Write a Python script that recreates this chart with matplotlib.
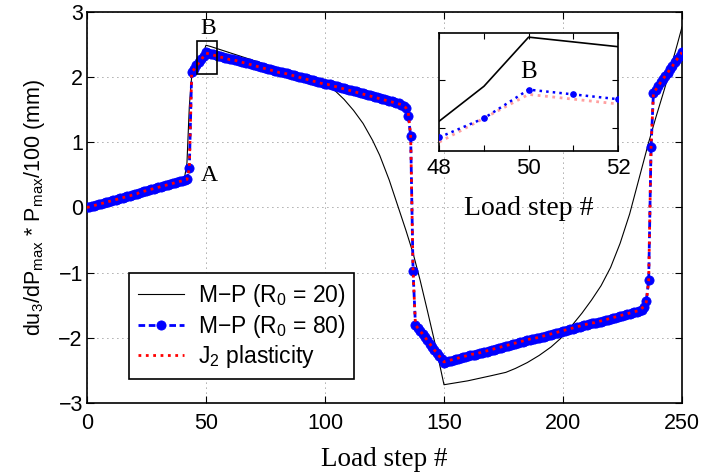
import matplotlib
matplotlib.use('Agg')
import matplotlib.pyplot as plt
from matplotlib.patches import Rectangle
import numpy as np

plt.rcParams['font.family'] = ['Liberation Sans', 'DejaVu Sans']
plt.rcParams['mathtext.fontset'] = 'custom'
plt.rcParams['mathtext.rm'] = 'Liberation Sans'
plt.rcParams['mathtext.it'] = 'Liberation Sans:italic'
plt.rcParams['mathtext.bf'] = 'Liberation Sans:bold'

# ---------------- data ----------------
steps = list(range(0, 251))

mp80 = [
    0.00, 0.01, 0.02, 0.03, 0.04, 0.05, 0.06, 0.07, 0.08, 0.09,
    0.10, 0.11, 0.12, 0.13, 0.14, 0.15, 0.16, 0.17, 0.18, 0.19,
    0.20, 0.21, 0.23, 0.24, 0.25, 0.26, 0.27, 0.28, 0.29, 0.30,
    0.31, 0.32, 0.33, 0.34, 0.35, 0.36, 0.37, 0.38, 0.39, 0.40,
    0.41, 0.42, 0.43, 0.60, 2.08, 2.13, 2.18, 2.23, 2.28, 2.32,
    2.38, 2.37, 2.36, 2.35, 2.34, 2.33, 2.32, 2.31, 2.30, 2.29,
    2.28, 2.28, 2.27, 2.26, 2.25, 2.24, 2.23, 2.22, 2.21, 2.20,
    2.19, 2.18, 2.17, 2.16, 2.15, 2.14, 2.13, 2.12, 2.11, 2.10,
    2.09, 2.08, 2.08, 2.07, 2.06, 2.05, 2.04, 2.03, 2.02, 2.01,
    2.00, 1.99, 1.98, 1.97, 1.96, 1.95, 1.94, 1.93, 1.92, 1.91,
    1.90, 1.90, 1.89, 1.88, 1.87, 1.86, 1.85, 1.84, 1.83, 1.82,
    1.81, 1.80, 1.79, 1.78, 1.77, 1.76, 1.75, 1.74, 1.73, 1.72,
    1.71, 1.70, 1.69, 1.68, 1.67, 1.66, 1.65, 1.64, 1.63, 1.62,
    1.61, 1.60, 1.58, 1.56, 1.52, 1.40, 1.10, -0.97, -1.80, -1.85,
    -1.90, -1.94, -1.99, -2.04, -2.09, -2.14, -2.19, -2.23, -2.28, -2.33,
    -2.38, -2.37, -2.36, -2.35, -2.34, -2.33, -2.32, -2.31, -2.30, -2.29,
    -2.28, -2.27, -2.26, -2.26, -2.25, -2.24, -2.23, -2.22, -2.21, -2.20,
    -2.19, -2.18, -2.17, -2.16, -2.15, -2.14, -2.13, -2.12, -2.11, -2.10,
    -2.09, -2.08, -2.07, -2.06, -2.05, -2.04, -2.03, -2.02, -2.02, -2.01,
    -2.00, -1.99, -1.98, -1.97, -1.96, -1.95, -1.94, -1.93, -1.92, -1.91,
    -1.90, -1.89, -1.88, -1.87, -1.86, -1.85, -1.84, -1.83, -1.82, -1.81,
    -1.80, -1.79, -1.78, -1.78, -1.77, -1.76, -1.75, -1.74, -1.73, -1.72,
    -1.71, -1.70, -1.69, -1.68, -1.67, -1.66, -1.65, -1.64, -1.63, -1.62,
    -1.61, -1.60, -1.59, -1.57, -1.52, -1.43, -1.12, 0.93, 1.76, 1.81,
    1.86, 1.92, 1.97, 2.02, 2.07, 2.12, 2.17, 2.23, 2.28, 2.33,
    2.38,
]

j2 = [
    0.00, 0.01, 0.02, 0.03, 0.04, 0.05, 0.06, 0.07, 0.08, 0.09,
    0.10, 0.11, 0.12, 0.13, 0.14, 0.15, 0.16, 0.17, 0.18, 0.19,
    0.20, 0.21, 0.23, 0.24, 0.25, 0.26, 0.27, 0.28, 0.29, 0.30,
    0.31, 0.32, 0.33, 0.34, 0.35, 0.36, 0.37, 0.38, 0.39, 0.40,
    0.41, 0.42, 0.43, 0.60, 2.08, 2.12, 2.17, 2.22, 2.27, 2.32,
    2.37, 2.36, 2.35, 2.34, 2.33, 2.32, 2.31, 2.30, 2.29, 2.28,
    2.27, 2.27, 2.26, 2.25, 2.24, 2.23, 2.22, 2.21, 2.20, 2.19,
    2.18, 2.17, 2.16, 2.15, 2.14, 2.13, 2.12, 2.11, 2.10, 2.09,
    2.08, 2.07, 2.07, 2.06, 2.05, 2.04, 2.03, 2.02, 2.01, 2.00,
    1.99, 1.98, 1.97, 1.96, 1.95, 1.94, 1.93, 1.92, 1.91, 1.90,
    1.89, 1.89, 1.88, 1.87, 1.86, 1.85, 1.84, 1.83, 1.82, 1.81,
    1.80, 1.79, 1.78, 1.77, 1.76, 1.75, 1.74, 1.73, 1.72, 1.71,
    1.70, 1.69, 1.68, 1.67, 1.66, 1.65, 1.64, 1.63, 1.62, 1.61,
    1.60, 1.59, 1.58, 1.56, 1.53, 1.45, 1.10, -0.97, -1.80, -1.85,
    -1.90, -1.94, -1.99, -2.04, -2.09, -2.14, -2.19, -2.23, -2.28, -2.33,
    -2.37, -2.36, -2.35, -2.34, -2.33, -2.32, -2.31, -2.30, -2.29, -2.28,
    -2.27, -2.26, -2.25, -2.25, -2.24, -2.23, -2.22, -2.21, -2.20, -2.19,
    -2.18, -2.17, -2.16, -2.15, -2.14, -2.13, -2.12, -2.11, -2.10, -2.09,
    -2.08, -2.07, -2.06, -2.05, -2.04, -2.03, -2.02, -2.01, -2.01, -2.00,
    -1.99, -1.98, -1.97, -1.96, -1.95, -1.94, -1.93, -1.92, -1.91, -1.90,
    -1.89, -1.88, -1.87, -1.86, -1.85, -1.84, -1.83, -1.82, -1.81, -1.80,
    -1.79, -1.78, -1.77, -1.77, -1.76, -1.75, -1.74, -1.73, -1.72, -1.71,
    -1.70, -1.69, -1.68, -1.67, -1.66, -1.65, -1.64, -1.63, -1.62, -1.61,
    -1.60, -1.59, -1.58, -1.55, -1.52, -1.45, -1.12, 0.93, 1.76, 1.81,
    1.86, 1.92, 1.97, 2.02, 2.07, 2.12, 2.17, 2.23, 2.28, 2.33,
    2.38,
]

mp20_x = [0, 10, 20, 30, 40, 41, 42, 43, 44, 45, 46, 47, 48, 49, 50, 51, 52,
          60, 70, 80, 90, 100, 104, 108, 112, 116, 120, 123, 127, 131, 134,
          137, 140, 143, 146, 148, 150, 155, 160, 165, 170, 176, 180, 185,
          190, 195, 199, 204, 208, 212, 216, 220, 224, 228, 232, 236, 239,
          242, 245, 248, 250]
mp20_y = [0.00, 0.10, 0.20, 0.31, 0.41, 0.46, 0.68, 1.55, 2.02, 2.12, 2.18,
          2.25, 2.314, 2.387, 2.49, 2.48, 2.47,
          2.375, 2.256, 2.137, 2.02, 1.90, 1.80, 1.66, 1.49, 1.29, 1.03, 0.80,
          0.42, -0.02, -0.35,
          -0.70, -1.12, -1.58, -2.05, -2.38, -2.72, -2.69, -2.66, -2.62, -2.58,
          -2.53, -2.47, -2.38,
          -2.27, -2.14, -2.01, -1.80, -1.62, -1.42, -1.20, -0.92, -0.55, -0.10,
          0.45, 1.00, 1.38,
          1.74, 2.11, 2.50, 2.77]

labels = ['M\u2212P (R$_0$ = 20)', 'M\u2212P (R$_0$ = 80)', 'J$_2$ plasticity']
xticks = [0, 50, 100, 150, 200, 250]
yticks = [-3, -2, -1, 0, 1, 2, 3]

assert len(mp80) == 251 and len(j2) == 251 and len(mp20_x) == len(mp20_y)

# ---------------- figure ----------------
fig = plt.figure(figsize=(7.06, 4.76), dpi=100)
ax = fig.add_axes([0.1232, 0.1534, 0.8428, 0.8214])

ax.plot(mp20_x, mp20_y, color='k', lw=0.8, label=labels[0], zorder=2)
ax.plot(steps, mp80, color='b', ls=(0, (2.4, 1.3)), lw=2, marker='o', ms=6.6,
        mfc='b', mec='b', mew=0.6, label=labels[1], zorder=3)
ax.plot(steps, j2, color='r', ls=':', lw=2, label=labels[2], zorder=4)

ax.set_xlim(0, 250)
ax.set_ylim(-3, 3)
ax.set_xticks(xticks)
ax.set_yticks(yticks)
ax.grid(True, ls=(0, (1, 5)), color='#555555', lw=0.6)
ax.tick_params(direction='in', top=True, right=True, length=5, width=0.8,
               labelsize=15.5)
ax.tick_params(axis='x', pad=7)
ax.tick_params(axis='y', pad=3)
for sp in ax.spines.values():
    sp.set_linewidth(1.2)

ax.set_xlabel('Load step #', family='Liberation Serif', fontsize=19.5)
ax.xaxis.set_label_coords(0.5, -0.113)
ax.xaxis.label.set_va('top')
ax.set_ylabel('du$_3$/dP$_{\\rm max}$ * P$_{\\rm max}$/100 (mm)', fontsize=15.5)
ax.yaxis.set_label_coords(-0.068, 0.5)

leg = ax.legend(loc='upper left', bbox_to_anchor=(0.0706, 0.3325), fontsize=16.5,
                frameon=True, fancybox=False, edgecolor='k', framealpha=1,
                borderaxespad=0, handlelength=2.0, handletextpad=0.6,
                labelspacing=0.15, borderpad=0.4, numpoints=1)
leg.get_frame().set_linewidth(1.2)

ax.text(51.3, 0.49, 'A', family='Liberation Serif', fontsize=17,
        ha='center', va='center')
ax.text(50.8, 2.74, 'B', family='Liberation Serif', fontsize=17,
        ha='center', va='center')
ax.add_patch(Rectangle((46.1, 2.05), 8.4, 0.51, fill=False, lw=1.2, ec='k',
                       zorder=5))

# ---------------- inset ----------------
axin = fig.add_axes([0.6222, 0.6834, 0.2531, 0.2466])
mx = np.array(mp20_x)
my = np.array(mp20_y)
sel = (mx >= 48) & (mx <= 52)
st = np.array(steps)
sel2 = (st >= 48) & (st <= 52)
axin.plot(mx[sel], my[sel], color='k', lw=1.2, zorder=2)
axin.plot(st[sel2], np.array(j2)[sel2], color='#ffa0a0', ls=':', lw=2, zorder=3)
axin.plot(st[sel2], np.array(mp80)[sel2], color='b', ls=':', lw=1.8,
          marker='o', ms=3.8, mec='b', mfc='b', zorder=4)
axin.set_xlim(48, 52)
axin.set_ylim(2.252, 2.498)
axin.set_xticks([48, 49, 50, 51, 52])
axin.set_xticklabels(['48', '', '50', '', '52'])
axin.set_yticks([2.3, 2.4])
axin.set_yticklabels([])
axin.tick_params(direction='in', top=True, right=True, length=4, width=0.8,
                 labelsize=16, pad=5)
for sp in axin.spines.values():
    sp.set_linewidth(1.2)
axin.text(50.0, 2.417, 'B', family='Liberation Serif', fontsize=18,
          ha='center', va='center')
axin.set_xlabel('Load step #', family='Liberation Serif', fontsize=20)
axin.xaxis.set_label_coords(0.5, -0.39)
axin.xaxis.label.set_va('top')

fig.savefig('out.png', dpi=100)
